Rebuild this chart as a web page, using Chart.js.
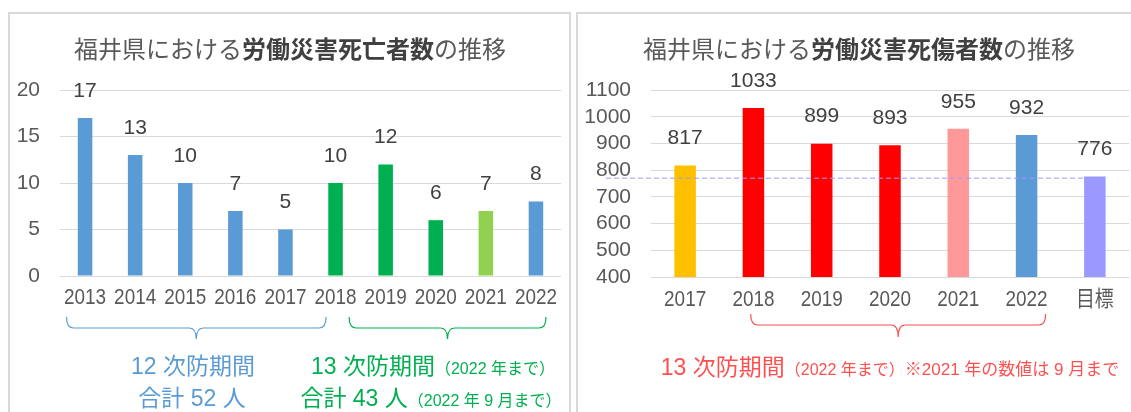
<!DOCTYPE html>
<html>
<head>
<meta charset="utf-8">
<script src="https://cdn.jsdelivr.net/npm/chart.js@4.4.1/dist/chart.umd.min.js"></script>
<style>
  body { margin: 0; width: 1131px; height: 412px; overflow: hidden; background: #fff; position: relative;
         font-family: "Liberation Sans", "Noto Sans CJK JP", sans-serif; }
  .panel { position: absolute; top: 12px; bottom: -4px; border: 2px solid #d9d9d9; }
  canvas { position: absolute; top: 0; }
  .title { position: absolute; top: 48px; font-family: "Noto Sans CJK JP", sans-serif; font-size: 24px; line-height: 1;
           color: #595959; white-space: nowrap; transform: translate(-50%, -50%); }
  .title b { color: #404040; }
  .note { position: absolute; white-space: nowrap; font-size: 23px; line-height: 1; transform: translate(-50%, -50%); }
  .note small { font-size: 16px; }
  .note span { font-size: 17px; }
</style>
</head>
<body>
<div class="panel" style="left:8px; width:559px;"></div>
<div class="panel" style="left:576px; width:600px;"></div>

<canvas id="deaths" width="570" height="412" style="left:0"></canvas>
<canvas id="injuries" width="555" height="412" style="left:576px"></canvas>

<div class="title" style="left:290px">福井県における<b>労働災害死亡者数</b>の推移</div>
<div class="title" style="left:859px">福井県における<b>労働災害死傷者数</b>の推移</div>

<div class="note" style="left:193px; top:366px; color:#5b9bd5">12 次防期間</div>
<div class="note" style="left:192px; top:398px; color:#5b9bd5">合計 52 人</div>
<div class="note" style="left:433px; top:366px; color:#00b050">13 次防期間<small>（2022 年まで）</small></div>
<div class="note" style="left:431px; top:398px; color:#00b050">合計 43 人<small>（2022 年 9 月まで）</small></div>
<div class="note" style="left:890px; top:367px; color:#ff5050">13 次防期間<small>（2022 年まで）</small><span>※2021 年の数値は 9 月まで</span></div>

<script>
// left chart: deaths
var deathYears = ["2013", "2014", "2015", "2016", "2017", "2018", "2019", "2020", "2021", "2022"];
var deathCounts = [17, 13, 10, 7, 5, 10, 12, 6, 7, 8];
var deathColors = ["#5b9bd5", "#5b9bd5", "#5b9bd5", "#5b9bd5", "#5b9bd5",
                   "#00b050", "#00b050", "#00b050", "#92d050", "#5b9bd5"];
var deathTicks = [0, 5, 10, 15, 20];

// right chart: deaths + injuries
var injuryLabels = ["2017", "2018", "2019", "2020", "2021", "2022", "目標"];
var injuryCounts = [817, 1033, 899, 893, 955, 932, 776];
var injuryColors = ["#ffc000", "#ff0000", "#ff0000", "#ff0000", "#ff9999", "#5b9bd5", "#9999ff"];
var injuryTicks = [400, 500, 600, 700, 800, 900, 1000, 1100];
var goalLine = 770;

var textGray = "#595959";

// numbers on top of the bars
var valueLabels = {
  id: "valueLabels",
  afterDatasetsDraw(chart) {
    var ctx = chart.ctx;
    var meta = chart.getDatasetMeta(0);
    ctx.save();
    ctx.font = "21px 'Liberation Sans'";
    ctx.fillStyle = "#404040";
    ctx.textAlign = "center";
    ctx.textBaseline = "middle";
    meta.data.forEach((bar, i) => {
      ctx.fillText(chart.data.datasets[0].data[i], bar.x, bar.y - 27);
    });
    ctx.restore();
  },
};

// category labels, a bit condensed like the original
var xLabels = {
  id: "xLabels",
  afterDraw(chart, args, opts) {
    var ctx = chart.ctx;
    var sx = chart.scales.x;
    var y = chart.chartArea.bottom + opts.offset;
    ctx.save();
    ctx.font = "22px 'Liberation Sans', 'Noto Sans CJK JP'";
    ctx.fillStyle = textGray;
    ctx.textAlign = "center";
    ctx.textBaseline = "middle";
    chart.data.labels.forEach((lab, i) => {
      ctx.save();
      ctx.translate(sx.getPixelForTick(i), y);
      ctx.scale(0.86, 1);
      ctx.fillText(lab, 0, 0);
      ctx.restore();
    });
    ctx.restore();
  },
};

// curly braces under the x axis, given in category units
var braces = {
  id: "braces",
  afterDraw(chart, args, opts) {
    var ctx = chart.ctx;
    var x = chart.scales.x;
    var base = chart.chartArea.bottom;
    (opts.items || []).forEach((b) => {
      var x1 = x.getPixelForValue(b.from);
      var x2 = x.getPixelForValue(b.to);
      var xm = (x1 + x2) / 2;
      var top = base + b.top, mid = base + b.mid, tip = base + b.tip;
      var r = 7;
      ctx.save();
      ctx.strokeStyle = b.color;
      ctx.lineWidth = 1.2;
      ctx.beginPath();
      ctx.moveTo(x1, top);
      ctx.quadraticCurveTo(x1, mid, x1 + r, mid);
      ctx.lineTo(xm - r, mid);
      ctx.quadraticCurveTo(xm, mid, xm, tip);
      ctx.quadraticCurveTo(xm, mid, xm + r, mid);
      ctx.lineTo(x2 - r, mid);
      ctx.quadraticCurveTo(x2, mid, x2, top);
      ctx.stroke();
      ctx.restore();
    });
  },
};

// dashed target line
var goalPlugin = {
  id: "goalPlugin",
  afterDatasetsDraw(chart, args, opts) {
    if (opts.value == null) return;
    var ctx = chart.ctx;
    var y = chart.scales.y.getPixelForValue(opts.value);
    var meta = chart.getDatasetMeta(0);
    var last = meta.data[meta.data.length - 1];
    ctx.save();
    ctx.strokeStyle = "#9999ff";
    ctx.lineWidth = 1;
    ctx.setLineDash([5, 3]);
    ctx.beginPath();
    ctx.moveTo(chart.chartArea.left - 45, y);
    ctx.lineTo(last.x - last.width / 2, y);
    ctx.stroke();
    ctx.restore();
  },
};

function makeChart(id, labels, values, colors, ticks, setup) {
  return new Chart(document.getElementById(id), {
    type: "bar",
    data: {
      labels: labels,
      datasets: [{
        data: values,
        backgroundColor: colors,
        barPercentage: setup.barPct,
        categoryPercentage: 1,
      }],
    },
    options: {
      responsive: false,
      animation: false,
      events: [],
      layout: { padding: { left: 0, right: setup.padRight, top: 90, bottom: 0 } },
      plugins: {
        legend: { display: false },
        tooltip: { enabled: false },
        braces: { items: setup.braces },
        goalPlugin: { value: setup.goal },
        xLabels: { offset: setup.labelOffset },
      },
      scales: {
        x: {
          grid: { display: false },
          border: { display: false },
          ticks: { display: false },
          afterFit: (s) => { s.height = setup.xHeight; },
        },
        y: {
          min: ticks[0],
          max: ticks[ticks.length - 1],
          grid: { color: "#d9d9d9", lineWidth: 1, drawTicks: false },
          border: { display: false },
          ticks: { stepSize: ticks[1] - ticks[0], color: textGray, padding: 20, autoSkip: false,
                   font: { family: "'Liberation Sans'", size: 21 },
                   callback: (v) => String(v) },
          afterFit: (s) => { s.width = setup.yWidth; },
        },
      },
    },
    plugins: [valueLabels, xLabels, braces, goalPlugin],
  });
}

makeChart("deaths", deathYears, deathCounts, deathColors, deathTicks, {
  barPct: 0.29, padRight: 9, yWidth: 60, xHeight: 136, labelOffset: 22,
  braces: [
    { from: -0.37, to: 4.81, color: "#5b9bd5", top: 41, mid: 52, tip: 63 },
    { from: 5.27, to: 9.2, color: "#00b050", top: 41, mid: 52, tip: 63 },
  ],
  goal: null,
});

makeChart("injuries", injuryLabels, injuryCounts, injuryColors, injuryTicks, {
  barPct: 0.315, padRight: 2, yWidth: 75, xHeight: 135, labelOffset: 23,
  braces: [
    { from: 0.96, to: 5.28, color: "#ff5050", top: 37, mid: 48, tip: 60 },
  ],
  goal: goalLine,
});
</script>
</body>
</html>
